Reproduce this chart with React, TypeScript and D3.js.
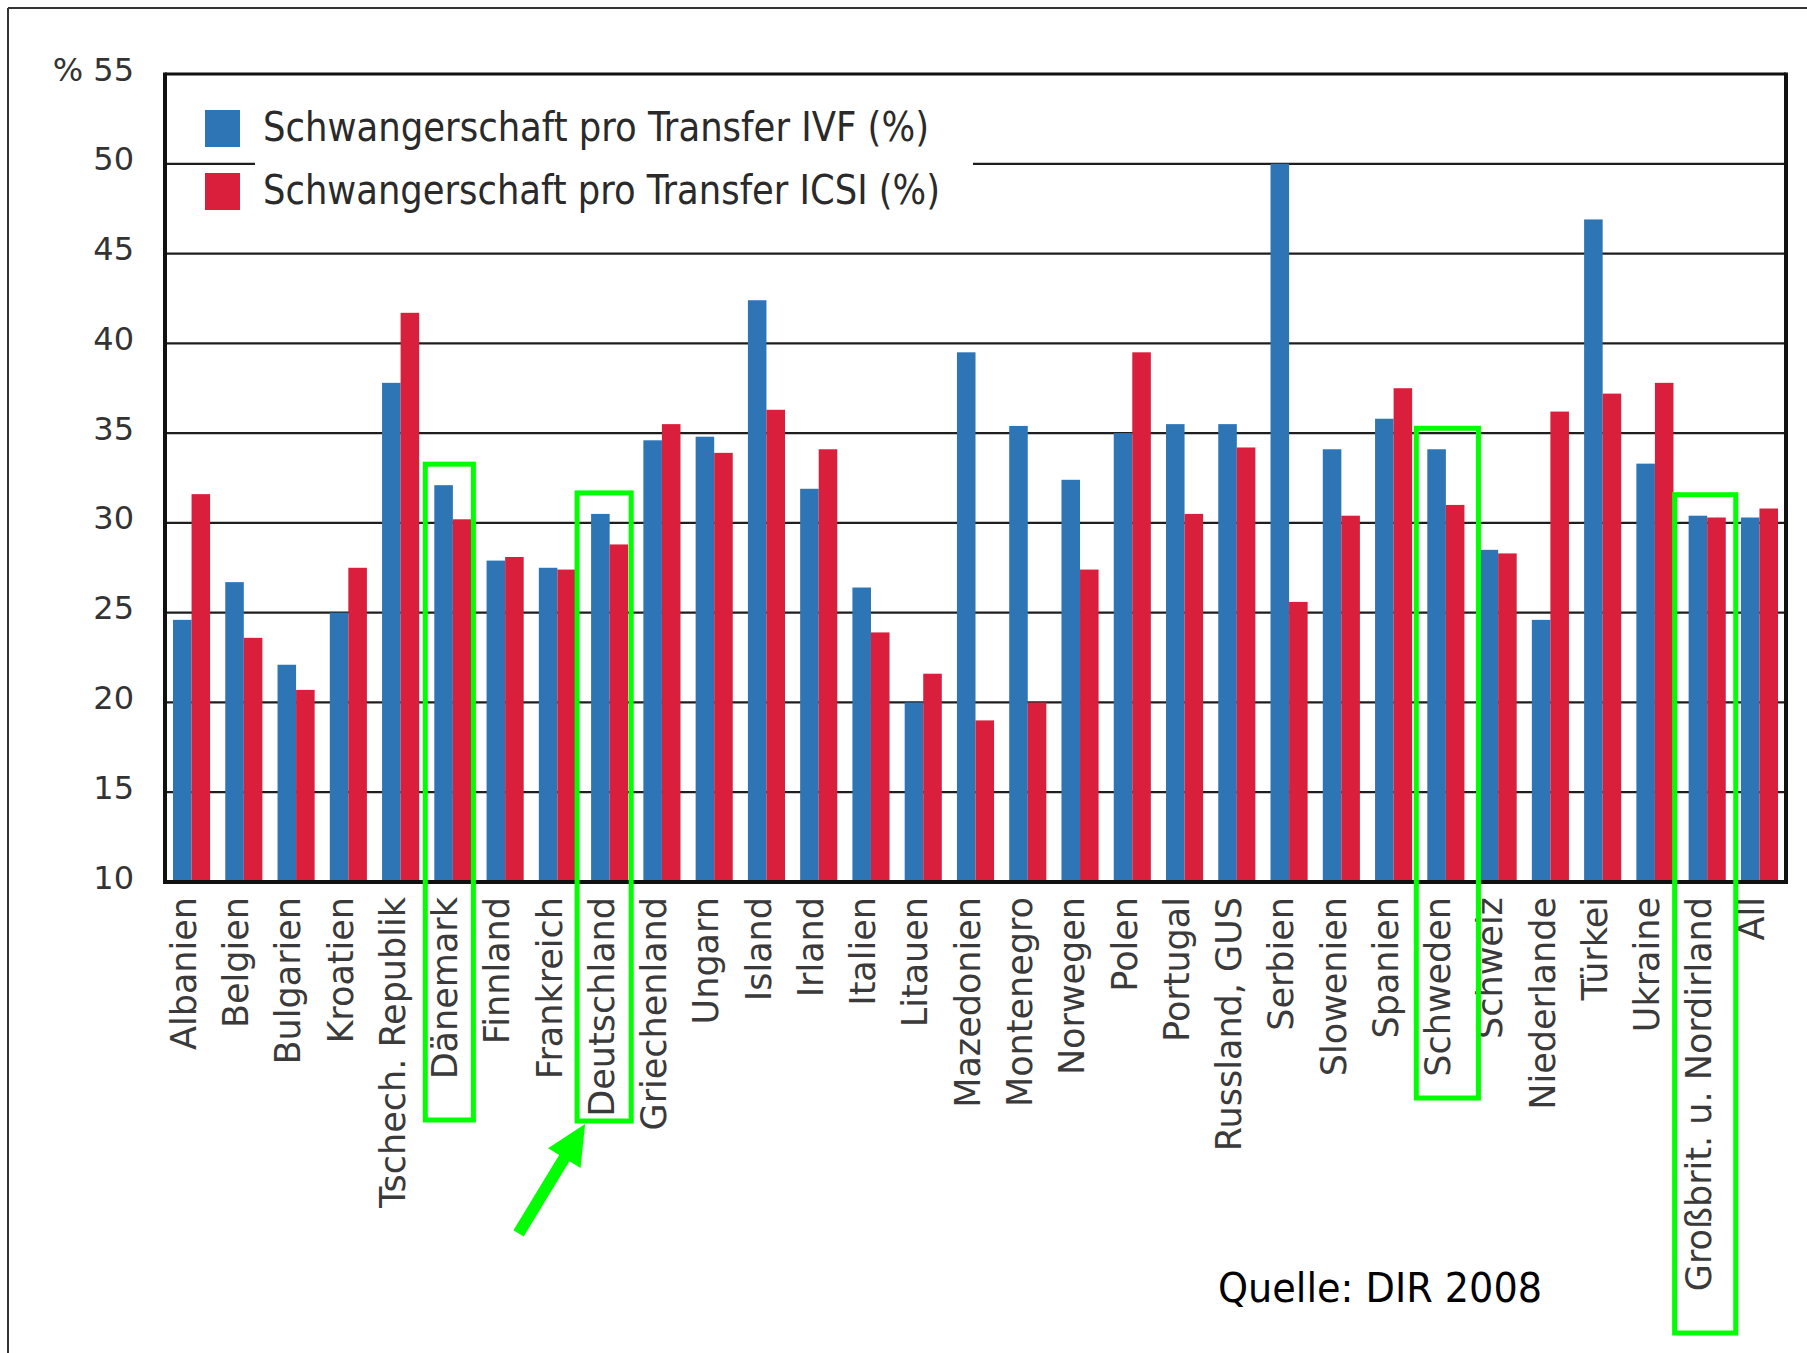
import React, { useEffect, useRef } from 'react';
import * as d3 from 'd3';

const countries = [
  'Albanien', 'Belgien', 'Bulgarien', 'Kroatien', 'Tschech. Republik', 'Dänemark',
  'Finnland', 'Frankreich', 'Deutschland', 'Griechenland', 'Ungarn', 'Island',
  'Irland', 'Italien', 'Litauen', 'Mazedonien', 'Montenegro', 'Norwegen', 'Polen',
  'Portugal', 'Russland, GUS', 'Serbien', 'Slowenien', 'Spanien', 'Schweden',
  'Schweiz', 'Niederlande', 'Türkei', 'Ukraine', 'Großbrit. u. Nordirland', 'All',
];

const ivf = [
  24.6, 26.7, 22.1, 25.0, 37.8, 32.1, 27.9, 27.5, 30.5, 34.6, 34.8, 42.4,
  31.9, 26.4, 20.0, 39.5, 35.4, 32.4, 35.0, 35.5, 35.5, 50.0, 34.1, 35.8,
  34.1, 28.5, 24.6, 46.9, 33.3, 30.4, 30.3,
];

const icsi = [
  31.6, 23.6, 20.7, 27.5, 41.7, 30.2, 28.1, 27.4, 28.8, 35.5, 33.9, 36.3,
  34.1, 23.9, 21.6, 19.0, 20.0, 27.4, 39.5, 30.5, 34.2, 25.6, 30.4, 37.5,
  31.0, 28.3, 36.2, 37.2, 37.8, 30.3, 30.8,
];

const yTicks = [10, 15, 20, 25, 30, 35, 40, 45, 50, 55];
const seriesKeys = ['ivf', 'icsi'];
const seriesLabels = [
  'Schwangerschaft pro Transfer IVF (%)',
  'Schwangerschaft pro Transfer ICSI (%)',
];
const colors = ['#2e75b6', '#da1f3d'];

// green highlight boxes (country, bottom of box in px)
const highlights = [
  { name: 'Dänemark', bottom: 1120, padL: 9, padR: 2 },
  { name: 'Deutschland', bottom: 1121, padL: 14, padR: 3 },
  { name: 'Schweden', bottom: 1098, padL: 11, padR: 14 },
  { name: 'Großbrit. u. Nordirland', bottom: 1333, padL: 14, padR: 10 },
];

const App = () => {
  const chartRef = useRef(null);

  useEffect(() => {
    const svg = d3.select(chartRef.current);
    svg.selectAll('*').remove();

    const left = 165;
    const right = 1786;
    const top = 74;
    const bottom = 882;

    const x0 = d3.scaleBand()
      .domain(countries)
      .range([left, right])
      .paddingInner(0.29)
      .paddingOuter(0.153);

    const x1 = d3.scaleBand()
      .domain(seriesKeys)
      .range([0, x0.bandwidth()]);

    const y = d3.scaleLinear()
      .domain([10, 55])
      .range([bottom, top]);

    // outer frame
    svg.append('line').attr('x1', 8).attr('x2', 1807).attr('y1', 8).attr('y2', 8)
      .attr('stroke', '#333').attr('stroke-width', 2);
    svg.append('line').attr('x1', 8).attr('x2', 8).attr('y1', 8).attr('y2', 1353)
      .attr('stroke', '#333').attr('stroke-width', 2);

    // gridlines
    svg.append('g')
      .selectAll('line')
      .data(yTicks.filter(t => t > 10 && t < 55))
      .enter()
      .append('line')
      .attr('x1', left)
      .attr('x2', right)
      .attr('y1', d => y(d))
      .attr('y2', d => y(d))
      .attr('stroke', '#1e1e1e')
      .attr('stroke-width', 2.2);

    // bars
    const rows = countries.map((c, i) => ({ c, vals: [ivf[i], icsi[i]] }));
    const groups = svg.append('g')
      .selectAll('g')
      .data(rows)
      .enter()
      .append('g')
      .attr('transform', d => `translate(${x0(d.c)},0)`);

    groups.selectAll('rect')
      .data(d => d.vals.map((v, k) => ({ key: seriesKeys[k], v, k })))
      .enter()
      .append('rect')
      .attr('x', d => x1(d.key) ?? 0)
      .attr('y', d => y(d.v))
      .attr('width', x1.bandwidth())
      .attr('height', d => bottom - y(d.v))
      .attr('fill', d => colors[d.k]);

    // frame of plot
    svg.append('line').attr('x1', left).attr('x2', right).attr('y1', top).attr('y2', top)
      .attr('stroke', '#111').attr('stroke-width', 3);
    svg.append('line').attr('x1', right).attr('x2', right).attr('y1', top - 1.5).attr('y2', bottom + 2)
      .attr('stroke', '#111').attr('stroke-width', 4);
    svg.append('line').attr('x1', left).attr('x2', left).attr('y1', top - 1.5).attr('y2', bottom + 2)
      .attr('stroke', '#111').attr('stroke-width', 4);
    svg.append('line').attr('x1', left - 2).attr('x2', right + 2).attr('y1', bottom).attr('y2', bottom)
      .attr('stroke', '#111').attr('stroke-width', 4);

    // y tick labels
    svg.append('g')
      .selectAll('text')
      .data(yTicks)
      .enter()
      .append('text')
      .attr('x', 134)
      .attr('y', d => y(d) - 5)
      .attr('dy', '0.36em')
      .attr('text-anchor', 'end')
      .attr('font-family', 'DejaVu Sans')
      .attr('font-size', 32)
      .attr('fill', '#333')
      .text(d => (d === 55 ? '% 55' : String(d)));

    // x labels
    svg.append('g')
      .selectAll('text')
      .data(countries)
      .enter()
      .append('text')
      .attr('transform', d => `translate(${(x0(d) ?? 0) + x0.bandwidth() / 2 - 8},${bottom + 15}) rotate(-90)`)
      .attr('dy', '0.35em')
      .attr('text-anchor', 'end')
      .attr('font-family', 'DejaVu Sans')
      .attr('font-size', 35)
      .attr('fill', '#3a3a3a')
      .text(d => d);

    // legend
    svg.append('rect').attr('x', 255).attr('y', 150).attr('width', 718).attr('height', 28)
      .attr('fill', '#fff');
    const lg = svg.append('g');
    seriesLabels.forEach((label, i) => {
      lg.append('rect')
        .attr('x', 205)
        .attr('y', 110 + i * 63)
        .attr('width', 35)
        .attr('height', 37)
        .attr('fill', colors[i]);
      lg.append('text')
        .attr('x', 263)
        .attr('y', 141 + i * 63)
        .attr('font-family', 'DejaVu Sans Condensed, DejaVu Sans')
        .attr('font-stretch', 'condensed')
        .attr('font-size', 40)
        .attr('fill', '#2a2a2a')
        .attr('textLength', i === 0 ? 666 : 677)
        .attr('lengthAdjust', 'spacingAndGlyphs')
        .text(label);
    });

    // source
    svg.append('text')
      .attr('x', 1218)
      .attr('y', 1302)
      .attr('font-family', 'DejaVu Sans Condensed, DejaVu Sans')
      .attr('font-stretch', 'condensed')
      .attr('font-size', 40)
      .attr('fill', '#000')
      .attr('textLength', 324)
      .attr('lengthAdjust', 'spacingAndGlyphs')
      .text('Quelle:  DIR 2008');

    // green highlight boxes
    const green = '#00ff00';
    highlights.forEach(h => {
      const i = countries.indexOf(h.name);
      const gx = x0(h.name) ?? 0;
      const topV = Math.max(ivf[i], icsi[i]);
      const bx = gx - h.padL;
      const by = y(topV) - 21;
      svg.append('rect')
        .attr('x', bx)
        .attr('y', by)
        .attr('width', x0.bandwidth() + h.padL + h.padR)
        .attr('height', h.bottom - by)
        .attr('fill', 'none')
        .attr('stroke', green)
        .attr('stroke-width', 5);
    });

    // arrow pointing at Deutschland box
    const dIdx = highlights[1];
    const tipX = (x0(dIdx.name) ?? 0) - dIdx.padL + 8;
    const tipY = dIdx.bottom + 3;
    const ux = 0.52;
    const uy = -0.854;
    const headLen = 40;
    const headW = 19;
    const bxc = tipX - headLen * ux;
    const byc = tipY - headLen * uy;
    svg.append('line')
      .attr('x1', bxc - 88 * ux)
      .attr('y1', byc - 88 * uy)
      .attr('x2', bxc + 2 * ux)
      .attr('y2', byc + 2 * uy)
      .attr('stroke', green)
      .attr('stroke-width', 12);
    svg.append('path')
      .attr('d', `M${tipX},${tipY} L${bxc + headW * -uy},${byc + headW * ux} L${bxc - headW * -uy},${byc - headW * ux} Z`)
      .attr('fill', green);
  }, []);

  return (
    <div style={{ position: 'absolute', left: 0, top: 0 }}>
      <svg ref={chartRef} width="1807" height="1353" style={{ display: 'block', background: '#fff' }}></svg>
    </div>
  );
};

export default App;
